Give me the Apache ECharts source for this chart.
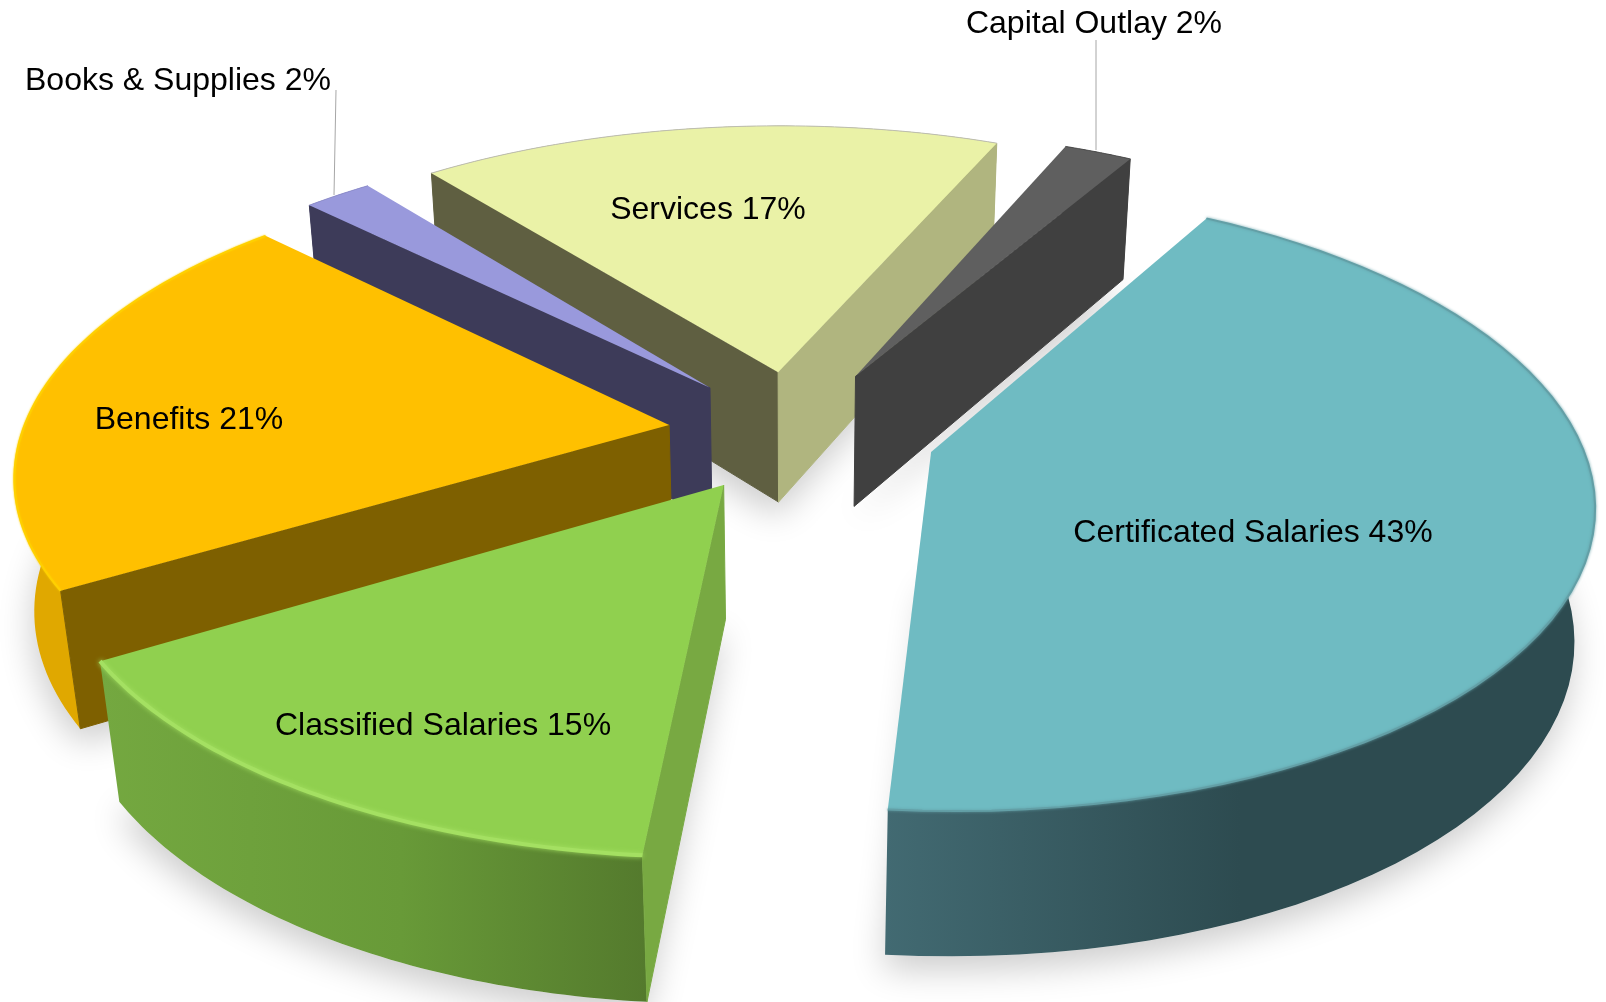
<!DOCTYPE html>
<html><head><meta charset="utf-8">
<style>html,body{margin:0;padding:0;background:#fff}#c{width:1606px;height:1002px}</style>
<script src="https://cdn.jsdelivr.net/npm/echarts@6/dist/echarts.min.js"></script>
</head><body><div id="c"></div>
<script>
const categories=['Certificated Salaries','Classified Salaries','Benefits','Books & Supplies','Services','Capital Outlay'];
const values=[43,15,21,2,17,2];
const labels=['Certificated Salaries 43%','Classified Salaries 15%','Benefits 21%','Books & Supplies 2%','Services 17%','Capital Outlay 2%'];

// Camera and solid: the pie has radius 1 in its own plane
const cam={cx:795.3162,cy:431.9665,fx:3705.9705,fy:3268.4037,dist:5.7302,pitch:0.5525,thick:0.2794,start:0.5274};
const explode=[0.2181,0.2036,0.1972,0.2025,0.2077,0.2137];
const drawOrder=[4,5,3,2,1,0];
const labelAt=[[1253,533],[443,726],[189,420],[178,81],[708,210],[1094,24]];
const leaders=[[[336,90],[334,195]],[[1096,40],[1096,150]]];
const LG=(stops)=>new echarts.graphic.LinearGradient(0,0,1,0,stops.map((c,i)=>({offset:c[0],color:c[1]})));
const paint=[
 {top:'#6FBBC2',start:'#2D4B50',end:'#2D4B50',outer:LG([[0,'#426A72'],[0.5,'#2D4B50'],[1,'#2D4B50']]),rim:'#639FA6',rimW:2,blur:3},
 {top:'#90D04F',start:'#78A942',end:'#6E9E3C',outer:LG([[0,'#74A840'],[0.55,'#689A38'],[1,'#547A2D']]),rim:'#A4E062',rimW:4,blur:5},
 {top:'#FFC000',start:'#7E6000',end:'#7E6000',outer:'#E0A800',rim:'#FFD000',rimW:2,blur:2},
 {top:'#9999DC',start:'#3D3B59',end:'#3D3B59',outer:'#3D3B59',rim:'#8F8FD0',rimW:1,blur:0},
 {top:'#EAF2A7',start:'#5F5F41',end:'#B0B57F',outer:'#8A8A5E',rim:'#BDBDB0',rimW:1,blur:0},
 {top:'#5F5F5F',start:'#404040',end:'#404040',outer:'#404040',rim:'#4A4A4A',rimW:1,blur:0}
];
const total=values.reduce((a,b)=>a+b,0);
const sin=Math.sin,cos=Math.cos,TAU=Math.PI*2,STEPS=60;
function project(x,y,z){
 const d=cam.dist+y*cos(cam.pitch)-z*sin(cam.pitch);
 return [cam.cx+cam.fx*x/d,cam.cy-cam.fy*(y*sin(cam.pitch)+z*cos(cam.pitch))/d];
}
let acc=cam.start;
const wedges=values.map((v,i)=>{const st=acc,en=acc+v/total*TAU;acc=en;const m=(st+en)/2;
 return {st,en,ox:explode[i]*sin(m),oy:explode[i]*cos(m)};});
function rim(i,z){const w=wedges[i],o=[];for(let k=0;k<=STEPS;k++){const a=w.st+(w.en-w.st)*k/STEPS;o.push(project(w.ox+sin(a),w.oy+cos(a),z))}return o}
function faces(w,nx,ny){ // is a radial wall turned towards the eye?
 const ex=0-w.ox,ey=-cam.dist*cos(cam.pitch)-w.oy;
 return ex*nx+ey*ny>0;
}
function wedgeGroup(pr,api){
 const i=api.value(0),w=wedges[i],c=paint[i],z=-cam.thick;
 const A=project(w.ox,w.oy,0),Ab=project(w.ox,w.oy,z),t=rim(i,0),b=rim(i,z);
 const ch=[];
 ch.push({type:'polygon',shape:{points:t.concat(b.slice().reverse())},style:{fill:c.outer}});
 if(faces(w,-cos(w.st),sin(w.st)))ch.push({type:'polygon',shape:{points:[A,t[0],b[0],Ab]},style:{fill:c.start,stroke:c.start,lineWidth:1}});
 if(faces(w,cos(w.en),-sin(w.en)))ch.push({type:'polygon',shape:{points:[A,t[STEPS],b[STEPS],Ab]},style:{fill:c.end,stroke:c.end,lineWidth:1}});
 ch.push({type:'polygon',shape:{points:[A].concat(t)},style:{fill:c.top}});
 ch.push({type:'polyline',shape:{points:t},style:{fill:'none',stroke:c.rim,lineWidth:c.rimW,shadowBlur:c.blur,shadowColor:c.rim}});
 return {type:'group',children:ch};
}
function shadowGroup(pr,api){
 const i=api.value(0),w=wedges[i],z=-cam.thick;
 const pts=[project(w.ox,w.oy,z)].concat(rim(i,z));
 return {type:'polygon',shape:{points:pts},style:{fill:'#EDEDED',shadowBlur:34,shadowColor:'rgba(0,0,0,0.20)',shadowOffsetX:-2,shadowOffsetY:14}};
}
const chart=echarts.init(document.getElementById('c'));
chart.setOption({animation:false,series:[
 {type:'custom',coordinateSystem:'none',silent:true,z:1,data:drawOrder.map(i=>[i]),renderItem:shadowGroup},
 {type:'custom',coordinateSystem:'none',silent:true,z:2,data:drawOrder.map(i=>[i]),renderItem:wedgeGroup},
 {type:'custom',coordinateSystem:'none',silent:true,z:3,data:leaders.map((l,i)=>[i]),renderItem(pr,api){
   return {type:'polyline',shape:{points:leaders[api.value(0)]},style:{fill:'none',stroke:'#A6A6A6',lineWidth:1}};}},
 {type:'custom',coordinateSystem:'none',silent:true,z:4,data:labels.map((l,i)=>[i]),renderItem(pr,api){
   const i=api.value(0);
   return {type:'text',style:{text:labels[i],x:labelAt[i][0],y:labelAt[i][1],font:'32px "Liberation Sans"',fill:'#000',align:'center',verticalAlign:'middle'}};}}
]});
</script></body></html>
